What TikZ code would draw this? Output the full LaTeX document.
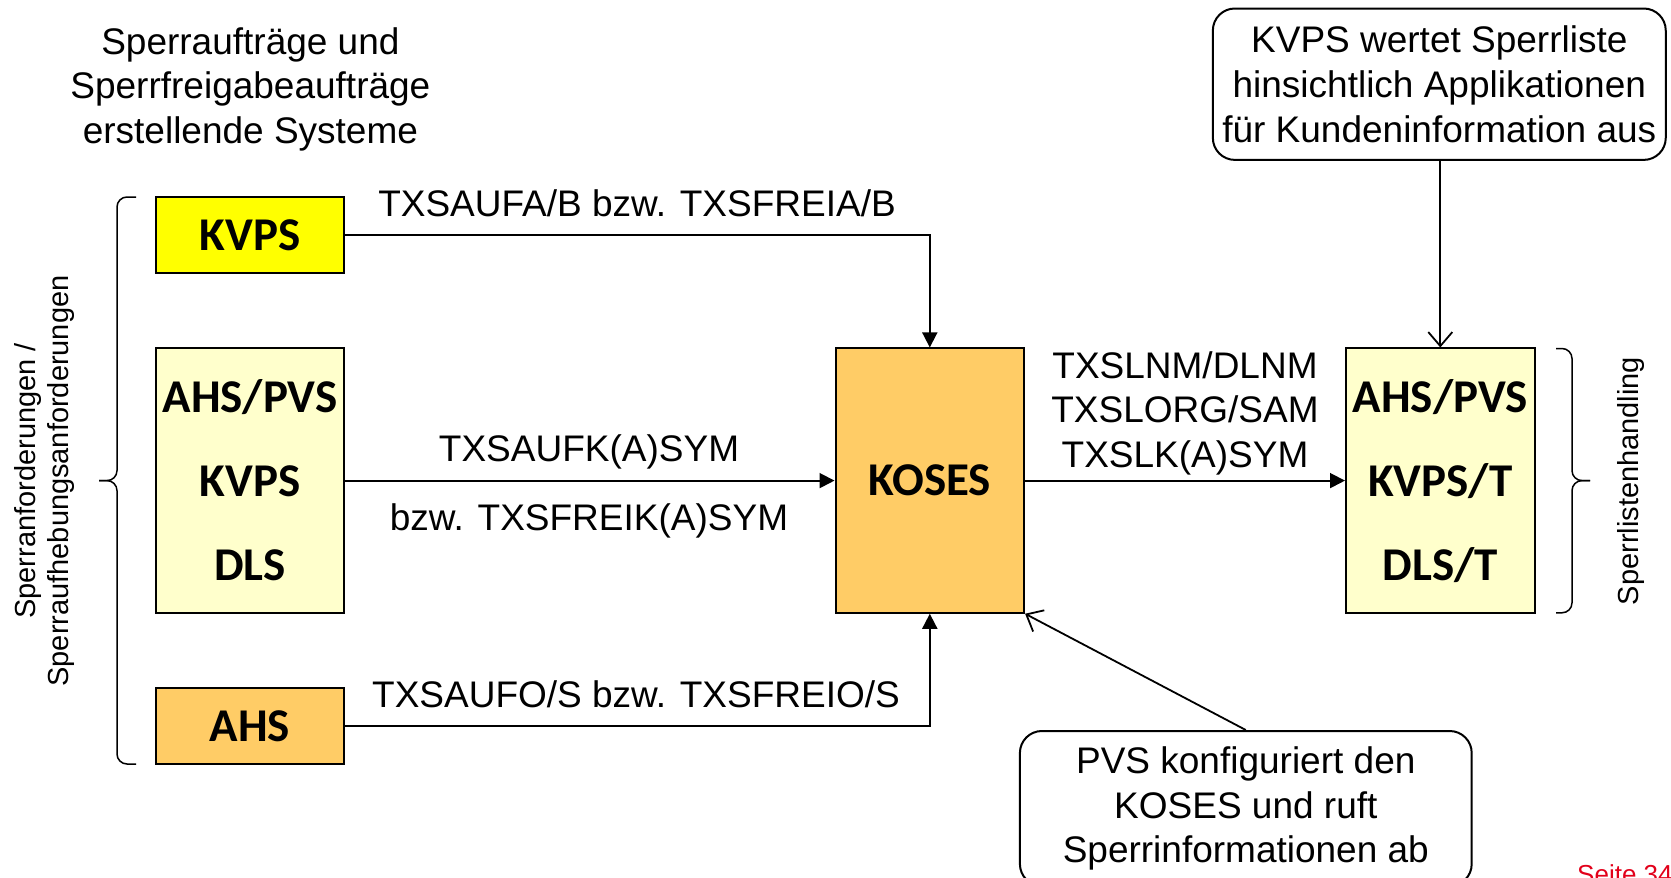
\documentclass[tikz,border=0pt]{standalone}
\usepackage{fontspec}
\setmainfont{Liberation Sans}
\newfontfamily\calfont{Carlito}
\usetikzlibrary{arrows.meta}
\definecolor{kyellow}{HTML}{FFFF00}
\definecolor{klight}{HTML}{FFFFCC}
\definecolor{korange}{HTML}{FFCC66}
\definecolor{seitered}{HTML}{E2001A}
\begin{document}
\begin{tikzpicture}[x=1pt,y=-1pt,
  box/.style={draw=black, line width=2pt, minimum width=188.6pt, inner sep=0pt,
    font=\calfont\bfseries\fontsize{47}{84}\selectfont, align=center},
  smallbox/.style={minimum height=75.6pt},
  tallbox/.style={minimum height=264.3pt},
  lbl/.style={font=\fontsize{37}{44.8}\selectfont, align=center, inner sep=0pt},
  conn/.style={line width=1.8pt, -{Triangle[length=15pt,width=15pt]}},
  openconn/.style={line width=1.8pt, -{Straight Barb[length=14pt,width=24pt,line width=1.8pt]}},
  callout/.style={draw, line width=2pt, rounded corners=22pt,
    font=\fontsize{37}{44.8}\selectfont, align=center, inner sep=0pt},
  rot/.style={rotate=90, font=\fontsize{29}{33}\selectfont, align=center, inner sep=0pt},
  brace/.style={line width=1.5pt, rounded corners=10pt}]
\useasboundingbox (0,0) rectangle (1671,878);
\clip (0,0) rectangle (1671,878);

% boxes
\node[box, smallbox, fill=kyellow] (kvps) at (250,235) {KVPS};
\node[box, tallbox, fill=klight] (ahspvs) at (250,480.6) {AHS/PVS\\KVPS\\DLS};
\node[box, smallbox, fill=korange] (ahs) at (250,726.2) {AHS};
\node[box, tallbox, fill=korange] (koses) at (929.8,480.6) {KOSES};
\node[box, tallbox, fill=klight] (right) at (1440.3,480.6) {AHS/PVS\\KVPS/T\\DLS/T};

% callouts
\node[callout, minimum width=452.9pt, minimum height=151.4pt] (kvpsnote) at (1439.3,84.2)
  {KVPS wertet Sperrliste\\hinsichtlich Applikationen\\für Kundeninformation aus};
\node[callout, minimum width=451.8pt, minimum height=155pt] (pvsnote) at (1245.8,808.5)
  {PVS konfiguriert den\\KOSES und ruft\\Sperrinformationen ab};

% headings
\node[lbl, anchor=base] (head) at (250.4,143.6)
  {Sperraufträge und\\Sperrfreigabeaufträge\\erstellende Systeme};
\node[rot] (leftlbl) at (45,481) {Sperranforderungen /\\Sperraufhebungsanforderungen};
\node[rot] (rightlbl) at (1631,481) {Sperrlistenhandling};

% connectors
\draw[conn] (kvps.east) -| (koses.north);
\draw[conn] (ahspvs.east) -- (koses.west);
\draw[conn] (ahs.east) -| (koses.south);
\draw[conn] (koses.east) -- (right.west);
\draw[openconn] (right.north |- kvpsnote.south) -- (right.north);
\draw[openconn] (pvsnote.north) -- (koses.south east);

% connector labels
\node[lbl, anchor=base] (l1) at (637,216) {TXSAUFA/B bzw. TXSFREIA/B};
\node[lbl, anchor=base] (l2) at (589,461) {TXSAUFK(A)SYM};
\node[lbl, anchor=base] (l3) at (589,530) {bzw. TXSFREIK(A)SYM};
\node[lbl, anchor=base] (l4) at (636,707) {TXSAUFO/S bzw. TXSFREIO/S};
\node[lbl, anchor=base] (l5) at (1185,467.6) {TXSLNM/DLNM\\TXSLORG/SAM\\TXSLK(A)SYM};

% braces
\draw[brace] (136,197) -- (117,197) -- (117,480.6) -- (99,480.6);
\draw[brace] (136,764) -- (117,764) -- (117,480.6) -- (99,480.6);
\draw[brace] (1556,348.5) -- (1572,348.5) -- (1572,480.6) -- (1590,480.6);
\draw[brace] (1556,612.8) -- (1572,612.8) -- (1572,480.6) -- (1590,480.6);

% page number
\node[anchor=north west, inner sep=0pt, text=seitered, font=\fontsize{26}{30}\selectfont] (seite) at (1577,864) {Seite 34};
\end{tikzpicture}
\end{document}
